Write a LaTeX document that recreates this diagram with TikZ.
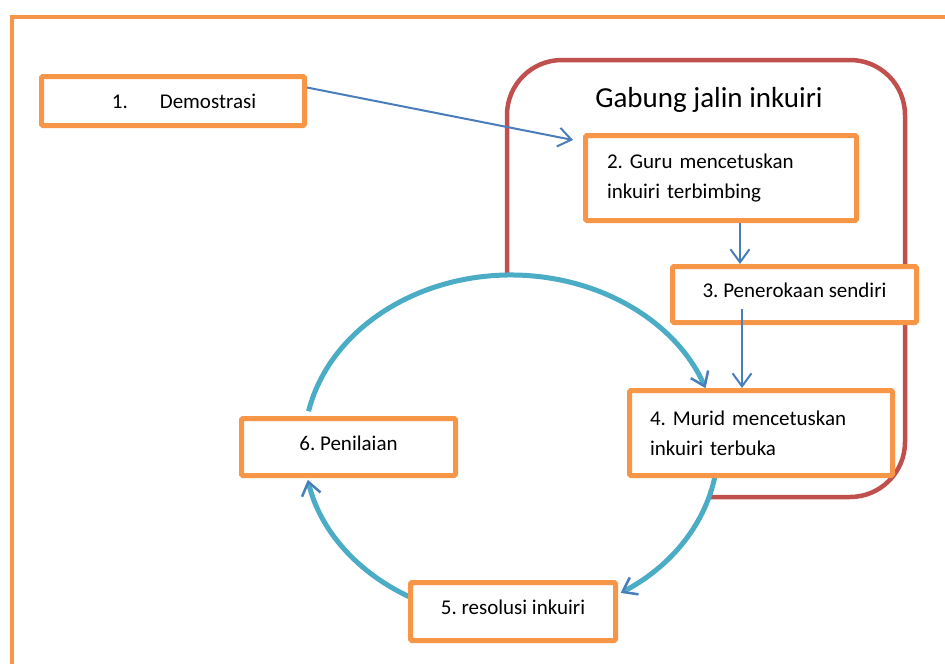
\documentclass[tikz,border=0pt]{standalone}
\usepackage{fontspec}
\setmainfont{Carlito}
\usetikzlibrary{arrows.meta,calc}
\definecolor{borange}{HTML}{F79646}
\definecolor{bred}{HTML}{C0504D}
\definecolor{cycblue}{HTML}{4BACC6}
\definecolor{arrowblue}{HTML}{4A7EBB}
\frenchspacing
\begin{document}
\begin{tikzpicture}[x=1pt,y=-1pt,
  box/.style={draw=borange,line width=5pt,fill=white,rounded corners=1.5pt,inner sep=0pt,font=\fontsize{21}{30}\selectfont},
  onel/.style={text height=15pt,text depth=9pt},
  lbl/.style={inner sep=0pt,font=\fontsize{21}{30}\selectfont},
  flow/.style={draw=arrowblue,line width=2pt,-{Straight Barb[length=13pt,width=19pt,line width=2pt]}},
  cyc/.style={draw=cycblue,line width=5pt,-{Straight Barb[color=arrowblue,length=13pt,width=19pt,line width=2.5pt]}},
]
\useasboundingbox (0,0) rectangle (945,664);
% outer frame
\draw[borange,line width=4.5pt] (12,664) -- (12,17) -- (945,17);
% red group
\draw[bred,line width=4.5pt,rounded corners=55pt] (507,60) rectangle (905,497);
\coordinate (c) at (511,447);
\fill[white] (c) ellipse [x radius=207, y radius=172];
% cycle arcs
\draw[cyc] ($(c)+(192:207 and 172)$) arc[start angle=192,end angle=340,x radius=207,y radius=172];
\draw[cyc] ($(c)+(8:207 and 172)$) arc[start angle=8,end angle=58,x radius=207,y radius=172];
\draw[cyc] ($(c)+(116:207 and 172)$) arc[start angle=116,end angle=169,x radius=207,y radius=172];
% heading
\node[font=\fontsize{29}{35}\selectfont,anchor=base,inner sep=0pt] (head) at (709,107) {Gabung jalin inkuiri};
% boxes
\node[box,minimum width=263pt,minimum height=49pt] (b1) at (173,101) {};
\node[lbl] (t1) at (184,101) {1.\hspace{32pt}Demostrasi};
\node[box,minimum width=271pt,minimum height=85pt,text width=228pt,align=left] (b2) at (721,178) {2. Guru mencetuskan\\inkuiri terbimbing};
\node[box,onel,minimum width=244pt,minimum height=56pt] (b3) at (794.5,294.5) {3. Penerokaan sendiri};
\node[box,minimum width=263pt,minimum height=85pt,text width=222pt,align=left] (b4) at (761,433) {4. Murid mencetuskan\\inkuiri terbuka};
\node[box,onel,minimum width=214pt,minimum height=57pt] (b6) at (348.5,447) {6. Penilaian};
\node[box,onel,minimum width=205pt,minimum height=58pt] (b5) at (513,611.5) {5. resolusi inkuiri};
% straight arrows
\coordinate (t12) at (573,140);
\draw[flow] ($(b1.north east)!0.25!(b1.south east)$) -- (t12);
\coordinate (x740) at (740,0);
\draw[flow] (b2.south -| x740) -- (b3.north -| x740);
\coordinate (s34) at (742,309);
\draw[flow] (s34) -- (b4.north -| s34);
\end{tikzpicture}
\end{document}
